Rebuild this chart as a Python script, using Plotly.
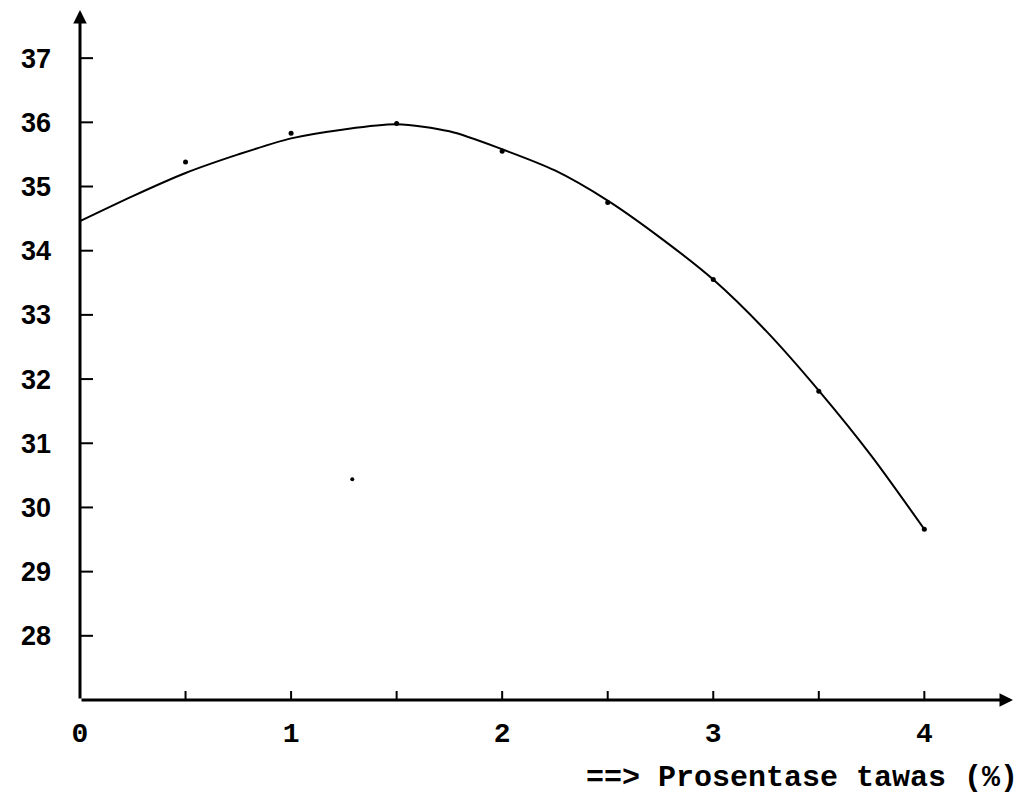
import plotly.graph_objects as go

# Measured points (x = alum percentage, y = value)
point_x = [0.5, 1.0, 1.5, 2.0, 2.5, 3.0, 3.5, 4.0]
point_y = [35.38, 35.83, 35.98, 35.55, 34.75, 33.55, 31.81, 29.66]

# Stray dot
stray_x = [1.29]
stray_y = [30.44]

# Fitted curve
curve_x = [0, 0.25, 0.5, 0.75, 1.0, 1.25, 1.5, 1.75, 2.0, 2.25, 2.5, 2.75, 3.0, 3.25, 3.5, 3.75, 4.0]
curve_y = [34.46, 34.85, 35.21, 35.50, 35.75, 35.89, 35.97, 35.86, 35.58, 35.25, 34.78, 34.20, 33.55, 32.75, 31.82, 30.80, 29.66]

# Axis ticks
x_major = [0, 1, 2, 3, 4]
x_major_labels = ["0", "1", "2", "3", "4"]
x_minor = [0.5, 1.0, 1.5, 2.0, 2.5, 3.0, 3.5, 4.0]
y_ticks = [28, 29, 30, 31, 32, 33, 34, 35, 36, 37]
y_labels = ["28", "29", "30", "31", "32", "33", "34", "35", "36", "37"]

x_title = "==> Prosentase tawas (%)"

X_MIN, X_MAX = 0, 4.42
Y_MIN, Y_MAX = 27, 37.75

fig = go.Figure()
fig.add_trace(go.Scatter(x=curve_x, y=curve_y, mode="lines",
                         line=dict(color="black", width=2, shape="spline", smoothing=0.8),
                         showlegend=False, hoverinfo="skip"))
fig.add_trace(go.Scatter(x=point_x, y=point_y, mode="markers",
                         marker=dict(color="black", size=5), showlegend=False))
fig.add_trace(go.Scatter(x=stray_x, y=stray_y, mode="markers",
                         marker=dict(color="black", size=4), showlegend=False))

shapes = []
for v in x_minor:
    shapes.append(dict(type="line", xref="x", yref="y", x0=v, x1=v,
                       ysizemode="pixel", yanchor=Y_MIN, y0=-9, y1=9,
                       line=dict(color="black", width=2)))
for v in y_ticks:
    shapes.append(dict(type="line", xref="x", yref="y", y0=v, y1=v,
                       xsizemode="pixel", xanchor=X_MIN, x0=-8, x1=13,
                       line=dict(color="black", width=2)))

annotations = [
    # x axis with arrow
    dict(x=X_MAX, y=Y_MIN, ax=X_MIN, ay=Y_MIN, xref="x", yref="y", axref="x", ayref="y",
         showarrow=True, arrowhead=2, arrowsize=0.9, arrowwidth=3, arrowcolor="black", text=""),
    # y axis with arrow
    dict(x=X_MIN, y=Y_MAX, ax=X_MIN, ay=Y_MIN, xref="x", yref="y", axref="x", ayref="y",
         showarrow=True, arrowhead=2, arrowsize=0.9, arrowwidth=3, arrowcolor="black", text=""),
    dict(x=1, xref="paper", xshift=7, xanchor="right", y=0, yref="paper", yanchor="middle",
         yshift=-78, text=x_title, showarrow=False,
         font=dict(family="Liberation Mono", size=30, color="black", weight="bold")),
]

fig.update_layout(
    width=1034, height=794,
    margin=dict(l=80, r=21, t=10, b=94),
    paper_bgcolor="white", plot_bgcolor="white",
    shapes=shapes, annotations=annotations,
    xaxis=dict(range=[X_MIN, X_MAX], showgrid=False, zeroline=False, showline=False,
               tickmode="array", tickvals=x_major, ticktext=x_major_labels, ticks="",
               ticklabelstandoff=13,
               tickfont=dict(family="Liberation Mono", size=28, color="black", weight="bold")),
    yaxis=dict(range=[Y_MIN, Y_MAX], showgrid=False, zeroline=False, showline=False,
               tickmode="array", tickvals=y_ticks, ticktext=y_labels, ticks="",
               ticklabelstandoff=28,
               tickfont=dict(family="Liberation Sans", size=27, color="black", weight="bold")),
)

fig.write_html("out.html")
